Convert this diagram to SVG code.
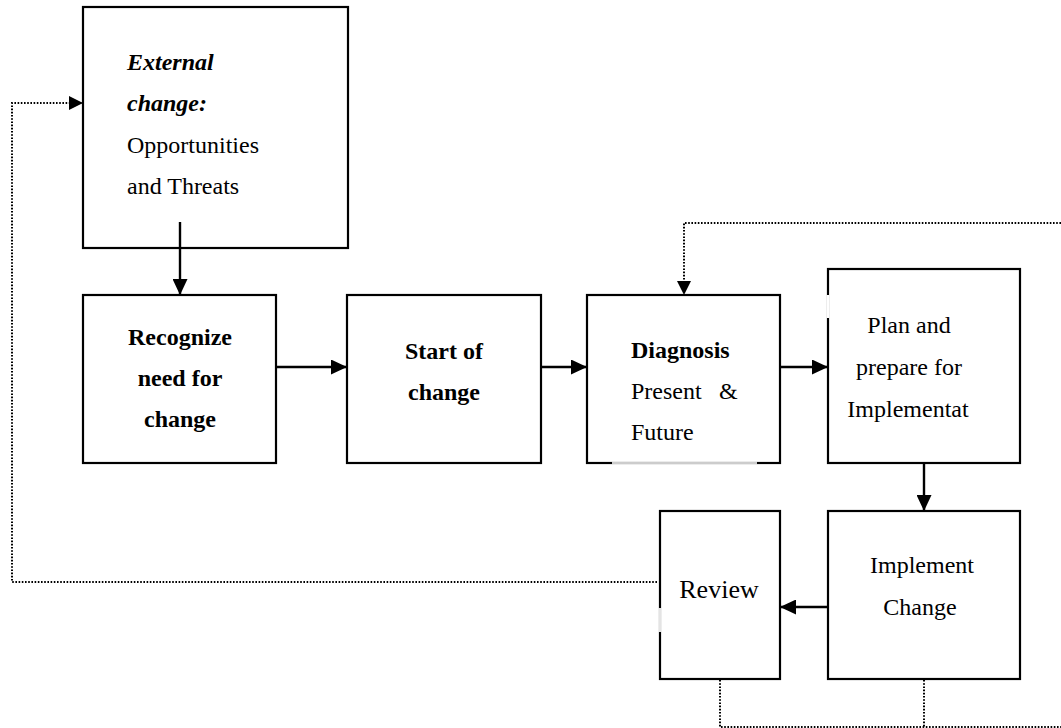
<svg xmlns="http://www.w3.org/2000/svg" width="1061" height="728" viewBox="0 0 1061 728">
<style>
.box{fill:#fff;stroke:#000;stroke-width:2.2}
.t{font-family:"Liberation Serif","Times New Roman",serif;font-size:24px;fill:#000}
.b{font-weight:bold}
.i{font-style:italic}
.c{text-anchor:middle}
.solid{fill:none;stroke:#000;stroke-width:2.4}
.dot{fill:none;stroke:#000;stroke-width:2;stroke-dasharray:1.6 1.6}
.gap{stroke:#fff;stroke-width:2.6}
</style>
<defs>
<marker id="ah" markerUnits="userSpaceOnUse" markerWidth="17" markerHeight="15" refX="16" refY="7.5" orient="auto">
<path d="M0,0 L16,7.5 L0,15 Z" fill="#000"/>
</marker>
<marker id="ahs" markerUnits="userSpaceOnUse" markerWidth="15" markerHeight="15" refX="14" refY="7.5" orient="auto">
<path d="M0,0.5 L14,7.5 L0,14.5 Z" fill="#000"/>
</marker>
</defs>
<rect width="1061" height="728" fill="#fff"/>

<g id="external">
<rect class="box" x="83" y="7" width="265" height="241"/>
<text class="t b i" x="127" y="70">External</text>
<text class="t b i" x="127" y="111">change:</text>
<text class="t" x="127" y="153">Opportunities</text>
<text class="t" x="127" y="194">and Threats</text>
</g>

<g id="recognize">
<rect class="box" x="83" y="295" width="193" height="168"/>
<text class="t b c" x="180" y="345">Recognize</text>
<text class="t b c" x="180" y="386">need for</text>
<text class="t b c" x="180" y="427">change</text>
</g>

<g id="start">
<rect class="box" x="347" y="295" width="194" height="168"/>
<text class="t b c" x="444" y="359">Start of</text>
<text class="t b c" x="444" y="400">change</text>
</g>

<g id="diagnosis">
<rect class="box" x="587" y="295" width="193" height="168"/>
<line x1="612" y1="463" x2="757" y2="463" class="gap"/>
<line x1="612" y1="463" x2="757" y2="463" stroke="#999" stroke-width="1"/>
<text class="t b" x="631" y="358">Diagnosis</text>
<text class="t" x="631" y="399">Present</text>
<text class="t" x="719" y="399">&amp;</text>
<text class="t" x="631" y="440">Future</text>
</g>

<g id="plan">
<rect class="box" x="828" y="269" width="192" height="194"/>
<line x1="828" y1="295" x2="828" y2="318" class="gap"/>
<text class="t c" x="909" y="333">Plan and</text>
<text class="t c" x="909" y="375">prepare for</text>
<text class="t c" x="908" y="417">Implementat</text>
</g>

<g id="implement">
<rect class="box" x="828" y="511" width="192" height="168"/>
<text class="t c" x="922" y="573">Implement</text>
<text class="t c" x="920" y="615">Change</text>
</g>

<g id="review">
<rect class="box" x="660" y="511" width="120" height="168"/>
<line x1="660" y1="608" x2="660" y2="632" class="gap"/>
<line x1="660" y1="608" x2="660" y2="632" stroke="#bbb" stroke-width="0.8"/>
<text class="t c" x="719" y="598" style="font-size:26px">Review</text>
</g>

<g id="connectors">
<line class="solid" x1="180" y1="222" x2="180" y2="295" marker-end="url(#ah)"/>
<line class="solid" x1="276" y1="367" x2="347" y2="367" marker-end="url(#ah)"/>
<line class="solid" x1="541" y1="367" x2="587" y2="367" marker-end="url(#ah)"/>
<line class="solid" x1="780" y1="367" x2="828" y2="367" marker-end="url(#ah)"/>
<line class="solid" x1="924" y1="463" x2="924" y2="511" marker-end="url(#ah)"/>
<line class="solid" x1="828" y1="607" x2="780" y2="607" marker-end="url(#ah)"/>
<path class="dot" d="M657,582 H12 V103 H83" marker-end="url(#ahs)"/>
<path class="dot" d="M1061,223 H684 V295" marker-end="url(#ahs)"/>
<path class="dot" d="M720,680 V727 H1061"/>
<path class="dot" d="M924,680 V727"/>
</g>
</svg>
